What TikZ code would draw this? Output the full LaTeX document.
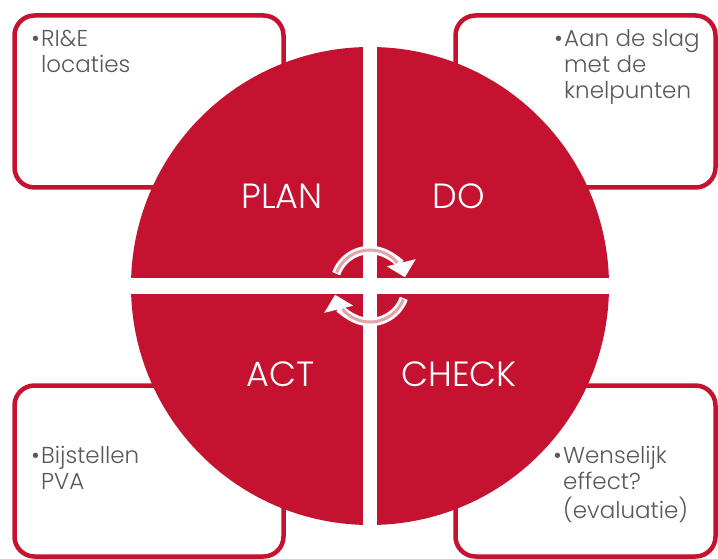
\documentclass[tikz,border=0pt]{standalone}
\usepackage{fontspec}
\setmainfont{Poppins}[UprightFont=* Light]
\usetikzlibrary{arrows.meta}
\definecolor{pdcared}{HTML}{C41230}
\definecolor{txtgray}{HTML}{595959}
\definecolor{arrowpink}{HTML}{E2A3AB}
\newcommand\notelines[1]{\begin{tabular}[t]{@{}l@{}}#1\end{tabular}}
\newcommand\bul{\llap{\textbullet\kern1.5pt}}
\tikzset{
  notebox/.style={draw=pdcared, line width=4.5pt, rounded corners=20pt, fill=white, inner sep=0pt, outer sep=0pt},
  notetext/.style={anchor=base west, inner sep=0pt, text=txtgray, font=\fontsize{23}{26}\selectfont},
  quadlabel/.style={text=white, font=\fontsize{35}{40}\selectfont, inner sep=0pt},
  cyclearrow/.style={white, line width=8.5pt, -{Triangle[length=15pt,width=29pt]}},
  cycleinner/.style={arrowpink, line width=3pt},
}
\begin{document}
\begin{tikzpicture}[x=1pt,y=-1pt]
\useasboundingbox (0,0) rectangle (718,559);
% corner boxes
\node[notebox, minimum width=269pt, minimum height=172pt] (boxTL) at (149,101.5) {};
\node[notebox, minimum width=260pt, minimum height=172pt] (boxTR) at (585.5,101.5) {};
\node[notebox, minimum width=269pt, minimum height=171pt] (boxBL) at (149,471) {};
\node[notebox, minimum width=260pt, minimum height=171pt] (boxBR) at (585.5,471) {};
% cycle disc
\node[circle, fill=pdcared, minimum size=478pt, inner sep=0pt] (disc) at (370,286) {};
\fill[white] (363,40) rectangle (377,532);
\fill[white] (120,278) rectangle (620,294);
% quadrant labels
\node[quadlabel] (plan) at (282,196) {PLAN};
\node[quadlabel] (do) at (459,196) {DO};
\node[quadlabel] (act) at (280.5,374.5) {ACT};
\node[quadlabel] (check) at (459,374.5) {CHECK};
% notes
\node[notetext] (noteTL) at (41,47) {\notelines{\bul RI\&E\\locaties}};
\node[notetext] (noteTR) at (564,47) {\notelines{\bul Aan de slag\\met de\\knelpunten}};
\node[notetext] (noteBL) at (41,463) {\notelines{\bul Bijstellen\\PVA}};
\node[notetext] (noteBR) at (563,463) {\notelines{\bul Wenselijk\\effect?\\(evaluatie)}};
% circular arrows
\coordinate (hub) at (370,286);
\draw[cyclearrow] (hub) ++(-160:36) arc[start angle=-160, end angle=-14, radius=36];
\draw[cycleinner] (hub) ++(-158:36) arc[start angle=-158, end angle=-40, radius=36];
\draw[cyclearrow] (hub) ++(20:36) arc[start angle=20, end angle=166, radius=36];
\draw[cycleinner] (hub) ++(22:36) arc[start angle=22, end angle=140, radius=36];
\end{tikzpicture}
\end{document}
